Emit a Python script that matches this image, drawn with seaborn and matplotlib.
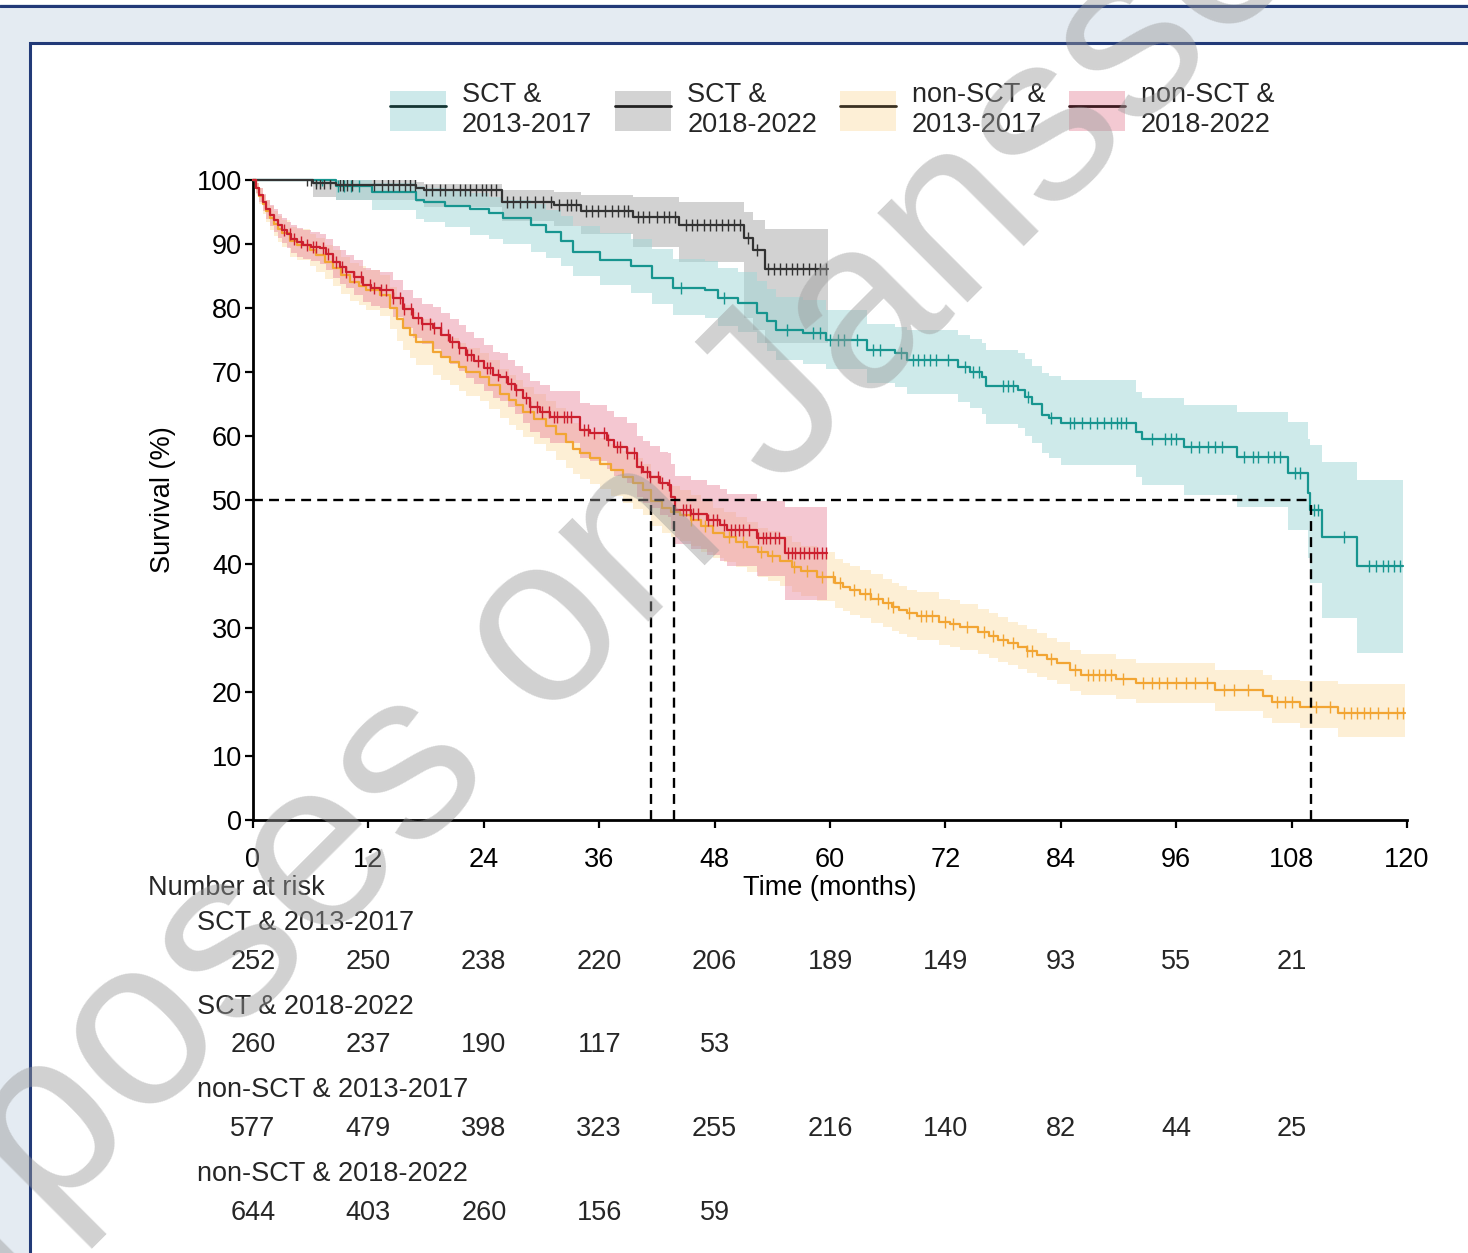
import numpy as np
import matplotlib
matplotlib.use("Agg")
import matplotlib.pyplot as plt
import seaborn as sns
from matplotlib.patches import Patch, Rectangle
from matplotlib.lines import Line2D
from matplotlib.transforms import blended_transform_factory

# ---------------- data ----------------
groups = ["SCT & 2013-2017", "SCT & 2018-2022", "non-SCT & 2013-2017", "non-SCT & 2018-2022"]
legend_labels = ["SCT &\n2013-2017", "SCT &\n2018-2022", "non-SCT &\n2013-2017", "non-SCT &\n2018-2022"]

# SCT & 2013-2017 (teal)
sct1317_t = [0, 8.6, 12.4, 17.0, 17.8, 20, 22.6, 24.5, 26, 28.9, 30.5, 32, 33.3, 36.1, 39.3, 41.5, 43.7, 47,
             48.4, 50.4, 52.4, 53.5, 54.4, 57.2, 59.6, 63.8, 66.8, 68, 73.3, 74.6, 75.8, 76.2, 79.5, 80.3, 81,
             82, 82.8, 84, 91.8, 92.4, 96.8, 102.3, 107.6, 109.7, 109.9, 111.2, 114.8]
sct1317_s = [100, 99.0, 98.1, 96.9, 96.5, 96.0, 95.5, 94.8, 94.0, 93.0, 91.9, 90.5, 88.8, 87.5, 86.5, 84.7,
             83.1, 82.8, 81.6, 80.8, 79.2, 78.0, 76.6, 76.1, 75.0, 73.4, 72.9, 71.9, 70.8, 70.0, 69.2, 67.8,
             67.2, 66.1, 65.0, 63.3, 62.8, 62.1, 60.6, 59.5, 58.3, 56.7, 54.2, 51.1, 48.4, 44.2, 39.7]
sct1317_lo = [100, 96.9, 95.3, 93.9, 93.5, 92.7, 91.4, 90.8, 90.0, 88.8, 87.8, 86.5, 85.0, 83.6, 82.4, 80.6,
              78.9, 78.5, 77.2, 76.3, 74.6, 73.3, 71.8, 71.2, 70.5, 68.3, 67.7, 66.6, 65.3, 64.4, 63.5, 61.8,
              61.2, 60.0, 58.9, 57.3, 56.5, 55.5, 53.6, 52.3, 50.8, 48.9, 45.3, 41.0, 37.0, 31.5, 26.1]
sct1317_hi = [100, 100, 99.6, 99.0, 98.7, 98.4, 97.9, 97.4, 96.8, 96.2, 95.3, 94.3, 92.8, 91.7, 90.8, 89.2,
              87.7, 87.4, 86.3, 85.6, 84.2, 83.0, 81.7, 81.2, 79.7, 77.5, 77.0, 76.5, 75.8, 75.2, 74.5, 73.4,
              72.9, 72.0, 71.0, 69.8, 69.3, 68.7, 66.8, 65.9, 64.8, 63.8, 62.2, 59.5, 58.6, 56.0, 53.1]
sct1317_end = 119.6
sct1317_cens = [6.5, 7.2, 8.0, 8.8, 9.5, 10.2, 11.0, 44.5, 49.0, 55.5, 58.2, 59.0, 60.0, 60.8, 61.5, 62.8,
                64.5, 65.2, 67.4, 68.6, 69.2, 69.8, 70.4, 71.0, 72.3, 74.0, 74.9, 75.5, 78.0, 78.5, 79.0,
                80.6, 83.0, 85.0, 85.4, 86.2, 87.0, 87.8, 88.5, 89.2, 89.8, 90.3, 90.8, 93.5, 94.8, 95.5,
                96.0, 97.5, 98.4, 99.3, 100.0, 100.8, 103.0, 104.0, 104.5, 105.5, 106.2, 106.8, 108.4,
                108.9, 110.3, 110.7, 113.4, 116.0, 116.8, 117.5, 118.0, 118.6, 119.3]

# SCT & 2018-2022 (dark grey)
sct1822_t = [0, 6.2, 8.6, 17.0, 17.8, 25.9, 31.3, 34.1, 39.5, 44.3, 51.1, 52.0, 53.2]
sct1822_s = [100, 99.5, 99.2, 98.7, 98.4, 96.6, 96.1, 95.2, 94.2, 93.0, 90.9, 89.1, 86.1]
sct1822_lo = [100, 97.3, 96.9, 96.6, 95.8, 93.6, 92.8, 91.5, 89.6, 87.2, 78.5, 76.5, 74.5]
sct1822_hi = [100, 100, 100, 99.7, 99.4, 98.4, 98.1, 97.7, 97.3, 96.6, 95.0, 93.8, 92.4]
sct1822_end = 59.8
sct1822_cens = [5.6, 6.0, 6.5, 7.0, 7.4, 8.0, 9.0, 9.4, 9.8, 10.3, 12.6, 13.4, 14.0, 14.6, 15.2, 15.8, 16.3,
                16.8, 18.0, 18.6, 19.4, 20.0, 20.8, 21.5, 22.0, 22.6, 23.2, 23.8, 24.2, 24.8, 25.3, 26.4,
                27.0, 27.8, 28.5, 29.3, 30.2, 31.0, 31.8, 32.6, 33.1, 33.6, 34.6, 35.2, 35.9, 36.6, 37.3,
                38.0, 38.6, 39.0, 40.0, 40.6, 41.2, 42.0, 42.7, 43.3, 43.9, 45.0, 45.6, 46.2, 46.9, 47.5,
                48.1, 48.8, 49.4, 50.0, 50.6, 51.5, 52.4, 53.6, 54.2, 54.8, 55.4, 56.0, 56.6, 57.2, 57.8,
                58.4, 59.0, 59.6]

# non-SCT & 2013-2017 (orange)
non1317_t = [0, 0.3, 0.6, 1.0, 1.4, 1.8, 2.2, 2.6, 3.0, 3.85, 4.6, 5.9, 6.6, 7.5, 8.3, 9.2, 10.1, 11.0, 11.8,
             13.2, 14.2, 15.0, 15.6, 16.3, 17.0, 18.7, 19.6, 20.5, 21.4, 22.2, 23.6, 24.5, 25.7, 26.6, 27.4,
             28.1, 29.2, 30.5, 31.5, 32.5, 33.3, 34.0, 35.0, 36.1, 37.2, 38.5, 39.5, 40.6, 41.4, 42.5, 43.5,
             44.4, 45.5, 46.6, 47.8, 49.0, 50.2, 51.4, 52.5, 53.6, 54.8, 56.0, 57.0, 58.6, 60.5, 61.3, 62.1,
             63.1, 64.3, 65.5, 66.4, 67.2, 68.0, 69.0, 71.3, 72.5, 73.5, 75.4, 76.5, 77.5, 78.5, 79.5, 80.5,
             81.5, 82.6, 83.6, 85.0, 86.1, 89.7, 91.8, 100.0, 105.0, 106.0, 108.9, 112.8]
non1317_s = [100, 98.7, 97.5, 96.2, 95.1, 94.1, 93.2, 92.4, 91.7, 90.4, 89.9, 89.1, 88.3, 87.2, 86.2, 85.1,
             84.1, 83.4, 82.8, 82.0, 80.0, 78.3, 76.9, 75.8, 74.7, 73.2, 72.4, 71.6, 70.8, 70.0, 69.2, 68.0,
             66.6, 65.6, 64.8, 63.8, 62.7, 61.5, 60.3, 59.0, 58.0, 57.3, 56.5, 55.7, 54.7, 53.6, 52.6, 51.6,
             49.9, 48.8, 48.2, 47.6, 46.8, 45.9, 44.9, 44.2, 43.4, 42.6, 41.8, 41.2, 40.4, 39.5, 38.9, 38.0,
             37.0, 36.4, 35.9, 35.3, 34.6, 33.9, 33.3, 32.8, 32.3, 31.9, 31.0, 30.7, 30.2, 29.4, 28.8, 28.2,
             27.6, 27.0, 26.4, 25.8, 25.1, 24.5, 23.4, 22.7, 22.0, 21.4, 20.3, 19.3, 18.5, 17.7, 16.7]
non1317_lo = [100, 97.8, 96.2, 94.7, 93.4, 92.2, 91.2, 90.3, 89.5, 88.0, 87.5, 86.6, 85.7, 84.5, 83.4, 82.2,
              81.1, 80.4, 79.7, 78.8, 76.7, 74.9, 73.4, 72.2, 71.1, 69.6, 68.8, 67.9, 67.1, 66.3, 65.4, 64.2,
              62.8, 61.7, 60.9, 59.9, 58.8, 57.6, 56.3, 55.0, 54.0, 53.3, 52.5, 51.7, 50.7, 49.6, 48.6, 47.6,
              45.9, 44.8, 44.2, 43.6, 42.8, 41.9, 41.0, 40.3, 39.5, 38.7, 37.9, 37.3, 36.5, 35.6, 35.0, 34.2,
              33.2, 32.6, 32.1, 31.5, 30.8, 30.2, 29.6, 29.1, 28.6, 28.2, 27.4, 27.1, 26.6, 25.9, 25.3, 24.7,
              24.2, 23.6, 23.0, 22.4, 21.8, 21.2, 20.2, 19.5, 18.9, 18.3, 17.1, 16.0, 15.2, 14.3, 12.9]
non1317_hi = [100, 99.5, 98.7, 97.7, 96.8, 95.9, 95.1, 94.4, 93.8, 92.7, 92.3, 91.6, 90.9, 89.9, 89.0, 88.0,
              87.1, 86.5, 85.9, 85.2, 83.3, 81.7, 80.4, 79.4, 78.3, 76.8, 76.0, 75.3, 74.5, 73.7, 73.0, 71.8,
              70.4, 69.5, 68.7, 67.7, 66.6, 65.4, 64.3, 63.0, 62.0, 61.3, 60.5, 59.7, 58.7, 57.6, 56.6, 55.6,
              53.9, 52.8, 52.2, 51.6, 50.8, 49.9, 48.8, 48.1, 47.3, 46.5, 45.7, 45.1, 44.3, 43.4, 42.8, 41.8,
              40.8, 40.2, 39.7, 39.1, 38.4, 37.6, 37.0, 36.5, 36.0, 35.6, 34.6, 34.3, 33.8, 32.9, 32.3, 31.7,
              31.0, 30.4, 29.8, 29.2, 28.4, 27.8, 26.6, 25.9, 25.1, 24.5, 23.5, 22.6, 21.8, 21.7, 21.2]
non1317_end = 119.8
non1317_cens = [45.5, 47.0, 49.5, 51.0, 52.8, 54.0, 56.3, 57.6, 59.2, 60.3, 61.0, 62.5, 63.6, 64.2, 65.0,
                66.0, 66.5, 68.2, 69.5, 70.0, 70.6, 72.0, 72.8, 74.2, 76.0, 77.0, 78.0, 79.0, 80.5, 81.0,
                83.0, 85.5, 86.8, 87.4, 88.0, 88.6, 89.2, 90.5, 92.5, 93.5, 94.2, 95.0, 96.0, 97.0, 98.0,
                99.2, 101.0, 102.0, 103.5, 106.5, 107.3, 108.0, 110.5, 112.0, 113.5, 114.2, 114.8, 115.5,
                116.2, 117.0, 118.0, 119.0, 119.6]

# non-SCT & 2018-2022 (red)
non1822_t = [0, 0.3, 0.6, 1.0, 1.4, 1.8, 2.2, 2.6, 3.0, 3.5, 4.0, 4.6, 5.2, 6.0, 7.0, 7.6, 8.3, 9.0, 9.7,
             10.5, 11.4, 12.3, 13.2, 14.6, 15.6, 16.6, 17.6, 18.7, 19.6, 20.5, 21.4, 22.2, 23.0, 24.0, 25.0,
             25.7, 26.5, 27.2, 28.1, 28.8, 29.8, 30.9, 34.0, 35.0, 36.8, 37.5, 38.9, 39.9, 40.6, 41.3, 42.3,
             43.2, 43.5, 43.9, 45.5, 47.2, 48.6, 49.3, 52.4, 55.3]
non1822_s = [100, 98.8, 97.7, 96.5, 95.4, 94.5, 93.7, 92.9, 92.2, 91.5, 90.8, 90.3, 89.9, 89.6, 89.3, 88.4,
             87.2, 86.4, 85.7, 84.8, 83.6, 83.1, 82.8, 81.5, 79.8, 78.4, 77.5, 76.9, 75.8, 74.7, 73.7, 72.7,
             71.7, 70.6, 69.6, 69.2, 68.2, 67.2, 65.9, 64.6, 63.8, 63.0, 60.9, 60.5, 59.4, 58.3, 57.3, 55.2,
             54.4, 53.6, 52.6, 52.3, 50.5, 48.5, 47.8, 46.9, 46.1, 45.3, 44.0, 41.7]
non1822_lo = [100, 98.0, 96.6, 95.1, 93.9, 92.8, 91.9, 91.0, 90.2, 89.4, 88.6, 88.0, 87.6, 87.3, 86.9, 86.0,
              84.7, 83.8, 83.1, 82.1, 80.9, 80.3, 80.0, 78.6, 76.8, 75.3, 74.3, 73.6, 72.4, 71.2, 70.2, 69.1,
              68.1, 67.0, 65.9, 65.5, 64.5, 63.4, 62.0, 60.6, 59.7, 58.9, 56.6, 56.1, 54.9, 53.7, 52.6, 50.4,
              49.6, 48.7, 47.7, 47.3, 45.4, 43.2, 42.4, 41.4, 40.5, 39.7, 38.2, 34.4]
non1822_hi = [100, 99.5, 98.7, 97.8, 96.9, 96.1, 95.4, 94.7, 94.1, 93.5, 92.9, 92.5, 92.2, 91.9, 91.6, 90.8,
              89.7, 89.0, 88.3, 87.5, 86.3, 85.9, 85.6, 84.4, 82.8, 81.5, 80.7, 80.2, 79.2, 78.3, 77.3, 76.3,
              75.3, 74.2, 73.2, 72.9, 71.9, 71.0, 69.8, 68.6, 67.9, 67.1, 65.2, 64.9, 63.9, 62.9, 62.0, 60.0,
              59.2, 58.5, 57.5, 57.3, 55.6, 53.7, 53.2, 52.4, 51.7, 50.9, 49.8, 48.9]
non1822_end = 59.7
non1822_cens = [3.2, 3.8, 4.3, 5.0, 5.6, 6.2, 6.6, 7.3, 7.8, 8.6, 9.3, 9.7, 10.5, 11.2, 12.2, 12.6, 13.3,
                13.8, 14.6, 15.3, 15.7, 16.4, 17.2, 17.6, 18.4, 18.8, 19.5, 20.3, 20.7, 21.4, 22.3, 22.7,
                23.4, 24.3, 24.6, 25.5, 26.3, 26.8, 27.4, 28.4, 28.8, 29.5, 30.1, 30.8, 31.3, 31.6, 32.3,
                32.7, 33.1, 34.4, 34.8, 35.5, 36.5, 36.9, 37.8, 38.2, 38.9, 39.6, 40.3, 41.0, 41.3, 42.1,
                42.5, 43.3, 44.7, 45.0, 45.4, 45.8, 46.3, 47.3, 47.8, 48.2, 49.0, 49.7, 50.1, 50.5, 51.0,
                51.6, 52.5, 53.0, 53.3, 53.8, 54.3, 54.7, 55.6, 56.0, 56.4, 56.9, 57.3, 57.8, 58.3, 58.7,
                59.2, 59.6]

# medians (months)
median_sct1317 = 110.0
median_non1317 = 41.4
median_non1822 = 43.8

# number at risk
risk_times = [0, 12, 24, 36, 48, 60, 72, 84, 96, 108]
risk_sct1317 = [252, 250, 238, 220, 206, 189, 149, 93, 55, 21]
risk_sct1822 = [260, 237, 190, 117, 53]
risk_non1317 = [577, 479, 398, 323, 255, 216, 140, 82, 44, 25]
risk_non1822 = [644, 403, 260, 156, 59]

x_ticks = [0, 12, 24, 36, 48, 60, 72, 84, 96, 108, 120]
y_ticks = [0, 10, 20, 30, 40, 50, 60, 70, 80, 90, 100]

# ---------------- style ----------------
sns.set_theme(style="ticks")
plt.rcParams["font.family"] = ["Liberation Sans", "DejaVu Sans"]
FS = 19.5

W, H = 1468, 1253
fig = plt.figure(figsize=(W / 100, H / 100), dpi=100)
fig.patch.set_facecolor("#e4ebf2")
navy = "#223a78"

# frame decorations
fig.patches.append(Rectangle((0, 1 - 4 / H), 1, 4 / H, transform=fig.transFigure,
                             facecolor="white", edgecolor="none", zorder=-3))
fig.lines.append(Line2D([0, 1], [1 - 5.5 / H] * 2, transform=fig.transFigure, color=navy, lw=2.2, zorder=-2))
fig.patches.append(Rectangle((30 / W, -0.05), 1.2, (H - 43) / H + 0.05, transform=fig.transFigure,
                             facecolor="white", edgecolor=navy, lw=2.2, zorder=-1))

ax = fig.add_axes([253 / W, 1 - 820 / H, 1154 / W, 640 / H])
ax.patch.set_alpha(0)

col_teal, band_teal = "#17958f", "#9fd6d6"
col_grey, band_grey = "#333333", "#a6a6a6"
col_orng, band_orng = "#f2a533", "#fde0ac"
col_red, band_red = "#cc1f2e", "#e8849b"

def ext(t, s, end):
    return list(t) + [end], list(s) + [s[-1]]

def step_vals(t, s, times):
    t = np.asarray(t); s = np.asarray(s)
    idx = np.searchsorted(t, np.asarray(times), side="right") - 1
    return s[idx]

def band(t, lo, hi, end, color, alpha):
    bt, blo = ext(t, lo, end)
    _, bhi = ext(t, hi, end)
    ax.fill_between(bt, blo, bhi, step="post", color=color, alpha=alpha, lw=0, zorder=1)

band(sct1822_t, sct1822_lo, sct1822_hi, sct1822_end, band_grey, 0.5)
band(sct1317_t, sct1317_lo, sct1317_hi, sct1317_end, band_teal, 0.5)
band(non1317_t, non1317_lo, non1317_hi, non1317_end, band_orng, 0.5)
band(non1822_t, non1822_lo, non1822_hi, non1822_end, band_red, 0.45)

# curves
curves = [
    (sct1317_t, sct1317_s, sct1317_end, sct1317_cens, col_teal),
    (sct1822_t, sct1822_s, sct1822_end, sct1822_cens, col_grey),
    (non1317_t, non1317_s, non1317_end, non1317_cens, col_orng),
    (non1822_t, non1822_s, non1822_end, non1822_cens, col_red),
]
for t, s, end, cens, c in curves:
    xt, ys = ext(t, s, end)
    sns.lineplot(x=xt, y=ys, ax=ax, color=c, lw=1.6, drawstyle="steps-post", sort=False,
                 estimator=None, errorbar=None, zorder=3, clip_on=False)
    ax.plot(cens, step_vals(t, s, cens), ls="none", marker="|", ms=8, mew=1.0, color=c, zorder=3)

# median reference lines
dash = (0, (4.2, 2.6))
ax.plot([0, median_sct1317], [50, 50], color="black", lw=1.7, ls=dash, zorder=4)
for m in (median_non1317, median_non1822, median_sct1317):
    ax.plot([m, m], [0, 50], color="black", lw=1.7, ls=dash, zorder=4)

ax.set_xlim(0, 120)
ax.set_ylim(0, 100)
ax.set_xticks(x_ticks)
ax.set_yticks(y_ticks)
ax.tick_params(axis="both", labelsize=FS, width=1.6, length=6, color="black", labelcolor="black")
ax.tick_params(axis="x", pad=13.5)
ax.tick_params(axis="y", pad=2)
for sp in ("top", "right"):
    ax.spines[sp].set_visible(False)
for sp in ("left", "bottom"):
    ax.spines[sp].set_linewidth(2)
    ax.spines[sp].set_color("black")
ax.grid(False)

ax.set_ylabel("Survival (%)", fontsize=FS, color="black")
ax.yaxis.set_label_coords((176 - 253) / 1154, 0.5)
ax.set_xlabel("Time (months)", fontsize=FS, color="black")
ax.xaxis.label.set_va("center")
ax.xaxis.set_label_coords(0.5, (820 - 888) / 640)

# number at risk table
fig.text(148 / W, 1 - 888 / H, "Number at risk", fontsize=FS, va="center", ha="left")
tr = blended_transform_factory(ax.transData, fig.transFigure)
rows = [(groups[0], risk_sct1317, 923, 962), (groups[1], risk_sct1822, 1007, 1045),
        (groups[2], risk_non1317, 1090, 1129), (groups[3], risk_non1822, 1174, 1213)]
for name, vals, ty, ny in rows:
    fig.text(197 / W, 1 - ty / H, name, fontsize=FS, va="center", ha="left")
    for tt, v in zip(risk_times, vals):
        ax.text(tt, 1 - ny / H, str(v), transform=tr, fontsize=FS, va="center", ha="center", clip_on=False)

# legend
leg_patch = ["#cde9ea", "#d3d3d3", "#fdefd6", "#f3c9d2"]
leg_line = ["#143533", "#222222", "#3a3122", "#3d1b20"]
handles = [(Patch(facecolor=p, edgecolor="none"), Line2D([], [], color=l, lw=2)) for p, l in zip(leg_patch, leg_line)]
fig.legend(handles, legend_labels, ncol=4, loc="center", bbox_to_anchor=(832 / W, 1 - 110 / H),
           frameon=False, fontsize=FS, handlelength=2.07, handleheight=1.88, handletextpad=0.59,
           columnspacing=0.85, borderpad=0, labelspacing=0)

# watermark
fig.text(560 / W, 1 - 622 / H, "purposes on Janssen", fontsize=172, color="#9a9a9a", alpha=0.45,
         rotation=45, rotation_mode="anchor", ha="center", va="center", zorder=10)

fig.savefig("out.png", dpi=100, facecolor=fig.get_facecolor())
